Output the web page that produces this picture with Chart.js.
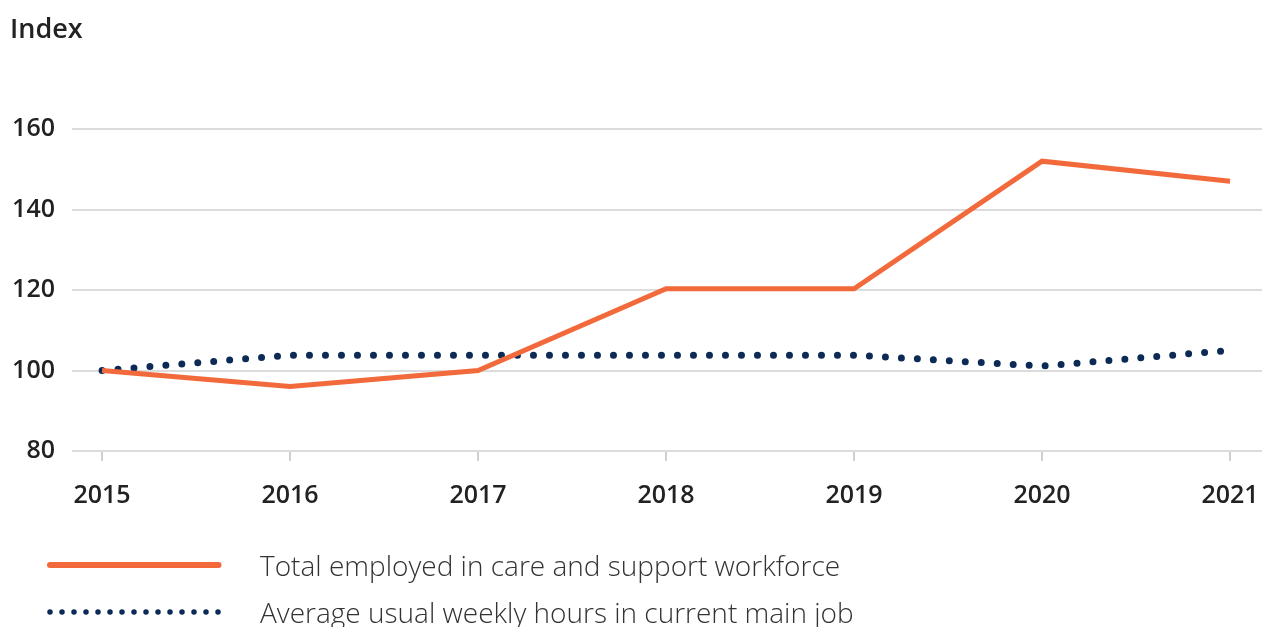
<!DOCTYPE html>
<html>
<head>
<meta charset="utf-8">
<script src="https://cdn.jsdelivr.net/npm/chart.js@4"></script>
<style>
  html, body { margin: 0; padding: 0; background: #fff; }
  #wrap { position: relative; width: 1271px; height: 627px; overflow: hidden; font-family: "Open Sans", "Noto Sans", sans-serif; }
  #c { position: absolute; left: 0; top: 0; }
  #ytitle { position: absolute; left: 10px; top: 9px; font-size: 27px; font-weight: 600; color: #222; line-height: 38px; }
  .leg { position: absolute; left: 0; height: 40px; width: 1271px; }
  .leg svg { position: absolute; left: 40px; top: 0; }
  .leg span { position: absolute; left: 260px; top: 0px; font-size: 28px; color: #333; line-height: 40px; font-weight: 300; white-space: nowrap; }
</style>
</head>
<body>
<div id="wrap">
  <canvas id="c" width="1271" height="627"></canvas>
  <div id="ytitle">Index</div>
  <div class="leg" id="leg1" style="top:545px;"></div>
  <div class="leg" id="leg2" style="top:592px;"></div>
</div>
<script>
const years = [2015, 2016, 2017, 2018, 2019, 2020, 2021];
const totalEmployed = [100, 96, 100, 120.3, 120.3, 152, 147];
const avgWeeklyHours = [100, 103.8, 103.8, 103.8, 103.8, 101.1, 105];
const yTicks = [80, 100, 120, 140, 160];
const seriesNames = ["Total employed in care and support workforce", "Average usual weekly hours in current main job"];
const orange = "#f26a3b";
const navy = "#0b2a55";

const toPts = (vals) => vals.map((v, i) => ({ x: years[i], y: v }));

new Chart(document.getElementById("c"), {
  type: "line",
  data: {
    datasets: [
      { label: seriesNames[0], data: toPts(totalEmployed), borderColor: orange, borderWidth: 5, pointRadius: 0, tension: 0, borderJoinStyle: "miter" },
      { label: seriesNames[1], data: toPts(avgWeeklyHours), borderColor: navy, borderWidth: 7, borderDash: [0, 16], borderCapStyle: "round", pointRadius: 0, tension: 0 }
    ]
  },
  options: {
    responsive: false,
    animation: false,
    layout: { padding: { top: 129, left: 10, right: 9, bottom: 96 } },
    plugins: { legend: { display: false }, tooltip: { enabled: false }, title: { display: false } },
    scales: {
      x: {
        type: "linear",
        min: 2014.84, max: 2021.17,
        afterBuildTicks: (axis) => { axis.ticks = years.map(y => ({ value: y })); },
        afterFit: (axis) => { axis.paddingLeft = 0; axis.paddingRight = 0; },
        border: { display: false },
        grid: { drawOnChartArea: false, drawTicks: true, tickLength: 10, color: "#d0d0d0", lineWidth: 2 },
        ticks: { padding: 20, color: "#222", font: { family: "Open Sans", size: 25, weight: 600 }, callback: (v) => String(v) }
      },
      y: {
        min: 80, max: 160,
        afterBuildTicks: (axis) => { axis.ticks = yTicks.map(v => ({ value: v })); },
        afterFit: (axis) => { axis.width = 62; axis.paddingTop = 0; axis.paddingBottom = 0; },
        border: { display: false },
        grid: { drawTicks: false, color: "#dcdcdc", lineWidth: 2 },
        ticks: { padding: 17, color: "#222", font: { family: "Open Sans", size: 25, weight: 600 } }
      }
    }
  }
});

function legendRow(id, name, dotted) {
  const el = document.getElementById(id);
  const ns = "http://www.w3.org/2000/svg";
  const svg = document.createElementNS(ns, "svg");
  svg.setAttribute("width", "190"); svg.setAttribute("height", "40");
  const ln = document.createElementNS(ns, "line");
  ln.setAttribute("x1", "10"); ln.setAttribute("x2", "178.5");
  ln.setAttribute("y1", "20"); ln.setAttribute("y2", "20");
  ln.setAttribute("stroke-linecap", "round");
  if (dotted) {
    ln.setAttribute("stroke", navy); ln.setAttribute("stroke-width", "5.5");
    ln.setAttribute("stroke-dasharray", "0 12");
  } else {
    ln.setAttribute("stroke", orange); ln.setAttribute("stroke-width", "6");
  }
  svg.appendChild(ln);
  el.appendChild(svg);
  const sp = document.createElement("span");
  sp.textContent = name;
  el.appendChild(sp);
}
legendRow("leg1", seriesNames[0], false);
legendRow("leg2", seriesNames[1], true);
</script>
</body>
</html>
